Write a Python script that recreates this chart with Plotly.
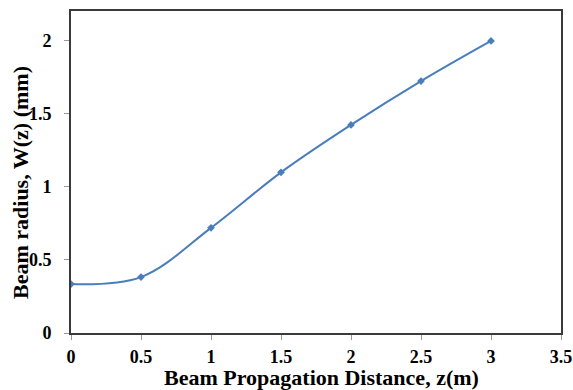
import plotly.graph_objects as go

z_m = [0, 0.5, 1.0, 1.5, 2.0, 2.5, 3.0]
w_mm = [0.335, 0.383, 0.72, 1.10, 1.425, 1.725, 2.0]

x_ticks = [0, 0.5, 1, 1.5, 2, 2.5, 3, 3.5]
y_ticks = [0, 0.5, 1, 1.5, 2]

x_title = "Beam Propagation Distance, z(m)"
y_title = "Beam radius, W(z) (mm)"

W, H = 573, 390
L, R, T, B = 71, 12, 11, 57

fig = go.Figure()
fig.add_trace(go.Scatter(
    x=z_m, y=w_mm, mode="lines+markers",
    line=dict(color="#4a7ebb", width=2, shape="spline", smoothing=1.0),
    marker=dict(symbol="diamond", size=6, color="#4a7ebb"),
    showlegend=False,
))

font_family = "Liberation Serif, Times New Roman, serif"
fig.update_layout(
    width=W, height=H,
    margin=dict(l=L, r=R, t=T, b=B),
    paper_bgcolor="white", plot_bgcolor="white",
    font=dict(family=font_family, color="black"),
    xaxis=dict(
        range=[0, 3.5], tickvals=x_ticks, ticktext=[f"<b>{v:g}</b>" for v in x_ticks],
        showgrid=False, zeroline=False, showline=True, linecolor="#3a3a3a", linewidth=2,
        mirror=True, ticks="outside", ticklen=5, tickcolor="#999", tickwidth=1,
        tickfont=dict(size=18, family=font_family), ticklabelstandoff=1,
        automargin=False,
    ),
    yaxis=dict(
        range=[0, 2.205], tickvals=y_ticks, ticktext=[f"<b>{v:g}</b>" for v in y_ticks],
        showgrid=False, zeroline=False, showline=True, linecolor="#3a3a3a", linewidth=2,
        mirror=True, ticks="outside", ticklen=5, tickcolor="#999", tickwidth=1,
        tickfont=dict(size=18, family=font_family), ticklabelstandoff=9,
        automargin=False,
    ),
    annotations=[
        dict(text=f"<b>{x_title}</b>", xref="paper", yref="paper",
             x=(321 - L) / (W - L - R), y=-(377 - (H - B)) / (H - T - B),
             xanchor="center", yanchor="middle", showarrow=False,
             font=dict(size=22, family=font_family, color="black")),
        dict(text=f"<b>{y_title}</b>", xref="paper", yref="paper",
             x=-(L - 20) / (W - L - R), y=((H - B) - 183) / (H - T - B),
             xanchor="center", yanchor="middle", showarrow=False, textangle=-90,
             font=dict(size=22, family=font_family, color="black")),
    ],
)
fig.write_html("out.html")
